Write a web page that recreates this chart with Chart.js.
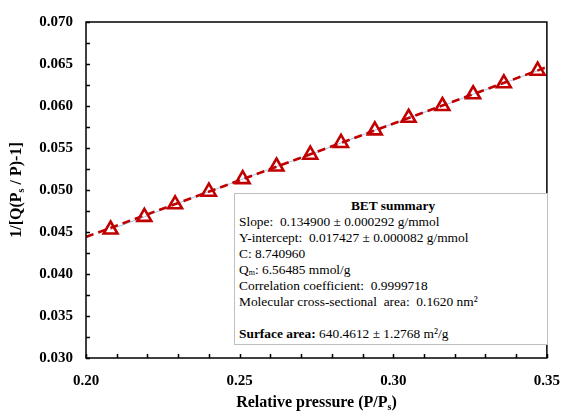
<!DOCTYPE html>
<html>
<head>
<meta charset="utf-8">
<script src="https://cdn.jsdelivr.net/npm/chart.js@4/dist/chart.umd.min.js"></script>
<style>
  html, body { margin: 0; padding: 0; background: #fff; }
  #wrap { position: relative; width: 574px; height: 414px; }
  #summary {
    position: absolute; left: 234px; top: 193px; width: 308px; height: 142px;
    border: 1px solid #bfbfbf; background: #fff;
    font-family: "Liberation Serif", "Times New Roman", serif; font-size: 13.4px;
    line-height: 16px; padding: 4px 0 4px 4px; color: #000; white-space: nowrap;
  }
  #summary .head { text-align: center; font-weight: bold; }
  #summary sub { font-size: 8px; vertical-align: -1px; line-height: 0; }
</style>
</head>
<body>
<div id="wrap">
  <canvas id="bet-canvas" width="574" height="414"></canvas>
  <div id="summary">
    <div class="head">BET summary</div>
    <div>Slope:&nbsp; 0.134900 ± 0.000292 g/mmol</div>
    <div>Y-intercept:&nbsp; 0.017427 ± 0.000082 g/mmol</div>
    <div>C: 8.740960</div>
    <div>Q<sub>m</sub>: 6.56485 mmol/g</div>
    <div>Correlation coefficient:&nbsp; 0.9999718</div>
    <div>Molecular cross-sectional&nbsp; area:&nbsp; 0.1620 nm²</div>
    <div>&nbsp;</div>
    <div><b>Surface area:</b> 640.4612 ± 1.2768 m²/g</div>
  </div>
</div>
<script>
// measured points (relative pressure vs 1/[Q(Ps/P)-1])
var pressure = [0.208, 0.219, 0.229, 0.240, 0.251, 0.262, 0.273, 0.283, 0.294, 0.305, 0.316, 0.326, 0.336, 0.347];
var betValues = [0.0453, 0.0468, 0.0483, 0.0498, 0.0513, 0.0528, 0.0542, 0.0556, 0.0571, 0.0586, 0.0600, 0.0614, 0.0627, 0.0642];

// fitted line end points
var fitX = [0.20, 0.35];
var fitY = [0.04441, 0.06464];

var xTicks = [0.20, 0.25, 0.30, 0.35];
var yTicks = [0.030, 0.035, 0.040, 0.045, 0.050, 0.055, 0.060, 0.065, 0.070];

var serif = '"Liberation Serif", "Times New Roman", serif';

function toPoints(xs, ys) {
    var pts = [];
    for (var i = 0; i < xs.length; i++) {
        pts.push({ x: xs[i], y: ys[i] });
    }
    return pts;
}

// draws frame, inward ticks and the axis titles (with subscripts)
var framePlugin = {
    id: 'frame',
    afterDraw: function(chart) {
        var c = chart.ctx;
        var a = chart.chartArea;
        var xs = chart.scales.x, ys = chart.scales.y;
        c.save();
        c.strokeStyle = '#000';
        c.lineWidth = 1.5;
        c.strokeRect(a.left, a.top, a.right - a.left, a.bottom - a.top);

        c.lineWidth = 1.5;
        c.beginPath();
        for (var v = 0.0300; v <= 0.07001; v += 0.0025) {
            var py = Math.round(ys.getPixelForValue(v)) + 0.5;
            c.moveTo(a.left, py);
            c.lineTo(a.left + 4, py);
        }
        for (var u = 0.20; u <= 0.3501; u += 0.01) {
            var px = Math.round(xs.getPixelForValue(u)) + 0.5;
            c.moveTo(px, a.bottom);
            c.lineTo(px, a.bottom - 4);
        }
        c.stroke();

        c.fillStyle = '#000';
        c.textBaseline = 'middle';

        // x title
        var big = 'bold 16px ' + serif, small = 'bold 10px ' + serif;
        c.font = big;
        var p1 = 'Relative pressure (P/P', p2 = ')';
        var w1 = c.measureText(p1).width, w3 = c.measureText(p2).width;
        c.font = small;
        var w2 = c.measureText('s').width;
        var cx = (a.left + a.right) / 2;
        var sx = cx - (w1 + w2 + w3) / 2;
        var ty = 403;
        c.font = big; c.textAlign = 'left';
        c.fillText(p1, sx, ty);
        c.font = small;
        c.fillText('s', sx + w1, ty + 4);
        c.font = big;
        c.fillText(p2, sx + w1 + w2, ty);

        // y title
        c.translate(17, (a.top + a.bottom) / 2);
        c.rotate(-Math.PI / 2);
        var q1 = '1/[Q(P', q2 = ' / P)-1]';
        c.font = big;
        var v1 = c.measureText(q1).width, v3 = c.measureText(q2).width;
        c.font = small;
        var v2 = c.measureText('s').width;
        var st = -(v1 + v2 + v3) / 2;
        c.font = big;
        c.fillText(q1, st, 0);
        c.font = small;
        c.fillText('s', st + v1, 4);
        c.font = big;
        c.fillText(q2, st + v1 + v2, 0);
        c.restore();
    }
};

var chart = new Chart(document.getElementById('bet-canvas').getContext('2d'), {
    type: 'scatter',
    data: {
        datasets: [
            {
                label: 'Measured',
                data: toPoints(pressure, betValues),
                showLine: false,
                pointStyle: 'triangle',
                pointRadius: 8,
                pointBorderWidth: 2.6,
                pointBorderColor: '#c00000',
                pointBackgroundColor: 'rgba(255,255,255,0)',
                order: 0
            },
            {
                label: 'Fit',
                data: toPoints(fitX, fitY),
                showLine: true,
                borderColor: '#c00000',
                borderWidth: 2.5,
                borderDash: [8, 5],
                pointRadius: 0,
                order: 1
            },
            {
                label: 'Measured line',
                data: toPoints(pressure, betValues),
                showLine: true,
                borderColor: '#9dc3e6',
                borderWidth: 1,
                pointRadius: 0,
                order: 2
            }
        ]
    },
    options: {
        responsive: false,
        animation: false,
        layout: { padding: { top: 13, right: 16, left: 0, bottom: 0 } },
        plugins: {
            legend: { display: false },
            tooltip: { enabled: false }
        },
        scales: {
            x: {
                type: 'linear',
                min: 0.20,
                max: 0.35,
                afterBuildTicks: function(s) { s.ticks = xTicks.map(function(v) { return { value: v }; }); },
                afterFit: function(s) { s.height = 56; },
                grid: { display: false, drawTicks: false },
                border: { display: false },
                ticks: {
                    padding: 14,
                    color: '#000',
                    font: { family: serif, size: 15, weight: 'bold' },
                    callback: function(v) { return v.toFixed(2); }
                }
            },
            y: {
                type: 'linear',
                min: 0.030,
                max: 0.070,
                afterBuildTicks: function(s) { s.ticks = yTicks.map(function(v) { return { value: v }; }); },
                afterFit: function(s) { s.width = 86; },
                grid: { display: false, drawTicks: false },
                border: { display: false },
                ticks: {
                    padding: 13,
                    color: '#000',
                    font: { family: serif, size: 15, weight: 'bold' },
                    callback: function(v) { return v.toFixed(3); }
                }
            }
        }
    },
    plugins: [framePlugin]
});
</script>
</body>
</html>
